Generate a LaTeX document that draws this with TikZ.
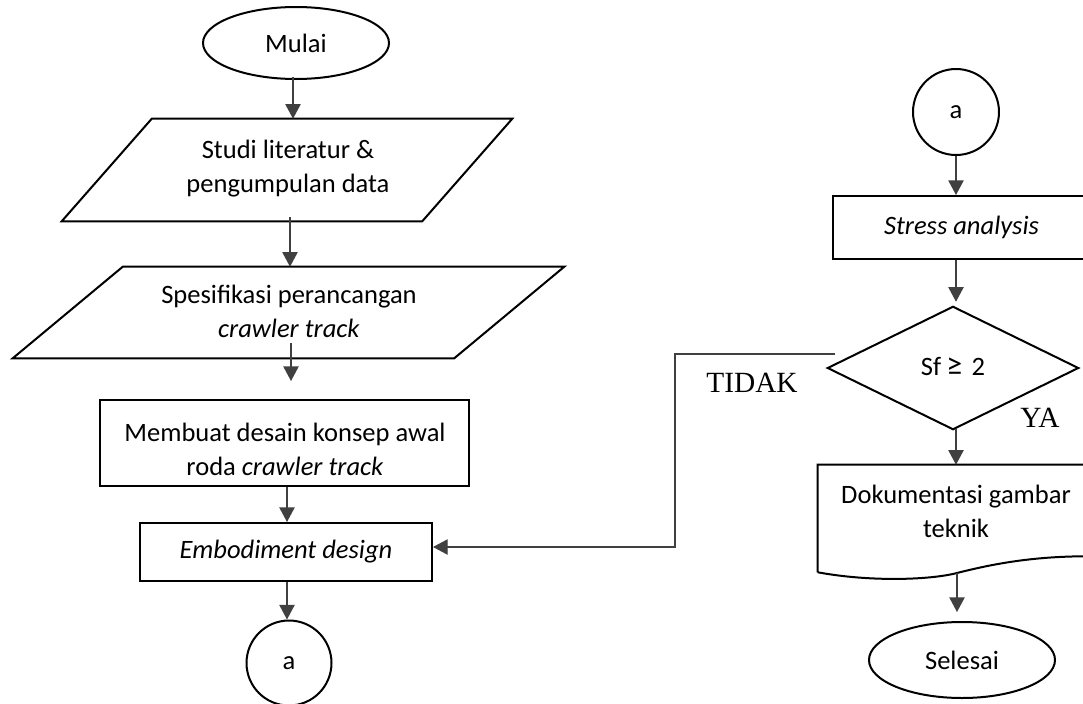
\documentclass[tikz,border=0pt]{standalone}
\usepackage{fontspec}
\setmainfont{Carlito}
\newfontfamily\timesf{Liberation Serif}
\usetikzlibrary{arrows.meta,calc,shapes.geometric}
\begin{document}
\begin{tikzpicture}[x=0.75pt,y=-0.75pt,
  shp/.style={line width=1.5pt},
  conn/.style={draw=black!75, line width=1pt, -{Triangle[length=11pt,width=11.5pt]}},
  box/.style={rectangle, inner sep=0pt, align=center, font=\fontsize{19.9}{25.5}\selectfont},
  lbl/.style={inner sep=0pt, font=\timesf\fontsize{22}{26}\selectfont}
]
\fill[white] (0,0) rectangle (1083,704);
\useasboundingbox (0,0) rectangle (1083,704);

% left column
\node[box, ellipse, draw, shp, minimum width=186*0.75pt, minimum height=72*0.75pt] (mulai) at (296,43) {Mulai};

\node[box, minimum width=450*0.75pt, minimum height=102*0.75pt] (p1) at (287,170) {};
\draw[shp] ($(p1.north west)+(90,0)$) -- (p1.north east) -- ($(p1.south east)-(90,0)$) -- (p1.south west) -- cycle;
\node[box] (p1t) at (288,168.5) {Studi literatur \&\\pengumpulan data};

\node[box, minimum width=551*0.75pt, minimum height=91*0.75pt] (p2) at (288.5,312.5) {};
\draw[shp] ($(p2.north west)+(110,0)$) -- (p2.north east) -- ($(p2.south east)-(110,0)$) -- (p2.south west) -- cycle;
\node[box] (p2t) at (289,311.5) {Spesifikasi perancangan\\\textit{crawler track}};

\node[box, draw, shp, minimum width=369*0.75pt, minimum height=86*0.75pt] (m) at (284.5,443) {};
\node[box] (mt) at (285,449) {Membuat desain konsep awal\\roda \textit{crawler track}};

\node[box, draw, shp, minimum width=292*0.75pt, minimum height=58*0.75pt] (emb) at (286,552) {\textit{Embodiment design}};

\node[box, circle, draw, shp, minimum size=85*0.75pt] (a1) at (289,663) {a};

% right column
\node[box, circle, draw, shp, minimum size=86*0.75pt] (a2) at (956,112) {a};

\node[box, draw, shp, minimum width=257*0.75pt, minimum height=63*0.75pt] (st) at (961.5,227.5) {\textit{Stress analysis}};

\node[box, minimum width=250*0.75pt, minimum height=122*0.75pt] (dia) at (953,368) {};
\draw[shp] (dia.north) -- (dia.east) -- (dia.south) -- (dia.west) -- cycle;
\node[box] (diat) at (953,366) {Sf\hspace{4pt}{\fontsize{24}{26}\selectfont ≥}\hspace{7pt}2};

\node[box, minimum width=274*0.75pt, minimum height=107*0.75pt] (doc) at (955,518.5) {};
\draw[shp] (doc.south west) -- (doc.north west) -- (doc.north east) -- ($(doc.south east)+(0,-16)$)
  .. controls (1040,556) and (1000,562) .. (957,573)
  .. controls (930,580) and (870,582) .. (doc.south west);
\node[box] (doct) at (956,511) {Dokumentasi gambar\\teknik};

\node[box, ellipse, draw, shp, minimum width=186*0.75pt, minimum height=76*0.75pt] (sel) at (962,660) {Selesai};

\node[lbl] (tidak) at (752,383) {TIDAK};
\node[lbl] (ya) at (1040,417.5) {YA};

% connectors
\draw[conn] ($(mulai.south)+(-3,-3)$) coordinate (c1) -- (c1 |- p1.north);
\draw[conn] ($(p1.south)+(3,-4)$) coordinate (c2) -- (c2 |- p2.north);
\draw[conn] ($(p2.south)+(2.5,-15)$) coordinate (c3) -- ($(c3 |- m.north)+(0,-18)$);
\draw[conn] ($(m.south)+(2.5,0)$) coordinate (c4) -- (c4 |- emb.north);
\draw[conn] ($(emb.south)+(1,0)$) coordinate (c5) -- (c5 |- a1.north);

\draw[conn] (a2.south) -- (a2.south |- st.north);
\draw[conn] (a2.south |- st.south) coordinate (c6) -- ($(c6 |- dia.north)+(0,-5)$);
\draw[conn] ($(dia.south)+(3,0)$) coordinate (c7) -- (c7 |- doc.north);
\draw[conn] ($(doc.south)+(2,1)$) coordinate (c8) -- ($(c8 |- sel.north)+(0,-9)$);

\coordinate (f1) at ($(dia.west)+(7,-14)$);
\coordinate (f2) at (675,354);
\coordinate (f3) at (675,547);
\draw[conn] (f1) -- (f2) -- (f3) -- (f3 -| emb.east);
\end{tikzpicture}
\end{document}
